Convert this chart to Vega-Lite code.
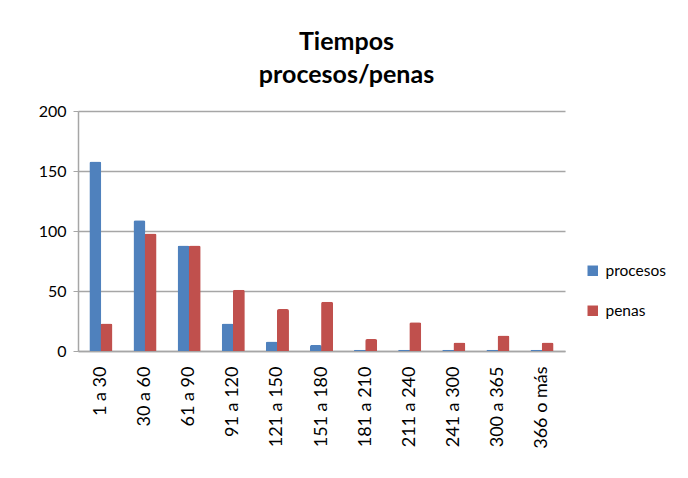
{
  "$schema": "https://vega.github.io/schema/vega-lite/v6.json",
  "autosize": "none",
  "width": 487,
  "height": 240,
  "padding": {"left": 78, "top": 111, "right": 123, "bottom": 127},
  "background": "white",
  "config": {"font": "Lato", "view": {"stroke": null}},
  "title": {
    "text": ["Tiempos", "procesos/penas"],
    "fontSize": 25,
    "fontWeight": "bold",
    "font": "Lato",
    "color": "#000000",
    "anchor": "middle",
    "frame": "group",
    "lineHeight": 33,
    "offset": 15,
    "dx": 25
  },
  "data": {
    "values": [
      {"rango": "1 a 30", "serie": "procesos", "valor": 158},
      {"rango": "1 a 30", "serie": "penas", "valor": 23},
      {"rango": "30 a 60", "serie": "procesos", "valor": 109},
      {"rango": "30 a 60", "serie": "penas", "valor": 98},
      {"rango": "61 a 90", "serie": "procesos", "valor": 88},
      {"rango": "61 a 90", "serie": "penas", "valor": 88},
      {"rango": "91 a 120", "serie": "procesos", "valor": 23},
      {"rango": "91 a 120", "serie": "penas", "valor": 51},
      {"rango": "121 a 150", "serie": "procesos", "valor": 8},
      {"rango": "121 a 150", "serie": "penas", "valor": 35},
      {"rango": "151 a 180", "serie": "procesos", "valor": 5},
      {"rango": "151 a 180", "serie": "penas", "valor": 41},
      {"rango": "181 a 210", "serie": "procesos", "valor": 1},
      {"rango": "181 a 210", "serie": "penas", "valor": 10},
      {"rango": "211 a 240", "serie": "procesos", "valor": 1},
      {"rango": "211 a 240", "serie": "penas", "valor": 24},
      {"rango": "241 a 300", "serie": "procesos", "valor": 1},
      {"rango": "241 a 300", "serie": "penas", "valor": 7},
      {"rango": "300 a 365", "serie": "procesos", "valor": 1},
      {"rango": "300 a 365", "serie": "penas", "valor": 13},
      {"rango": "366 o más", "serie": "procesos", "valor": 1},
      {"rango": "366 o más", "serie": "penas", "valor": 7}
    ]
  },
  "mark": {"type": "bar", "width": 12, "cornerRadiusTopLeft": 2, "cornerRadiusTopRight": 2},
  "encoding": {
    "x": {
      "field": "rango",
      "type": "nominal",
      "sort": null,
      "scale": {"paddingInner": 0, "paddingOuter": 0.02},
      "axis": {
        "title": null,
        "labelAngle": -90,
        "labelAlign": "right",
        "labelBaseline": "middle",
        "labelFontSize": 18,
        "labelColor": "#000000",
        "labelPadding": 15,
        "ticks": false,
        "domainColor": "#a6a6a6",
        "domainWidth": 1.5,
        "labelFont": "Lato"
      }
    },
    "xOffset": {
      "field": "serie",
      "type": "nominal",
      "sort": ["procesos", "penas"],
      "scale": {"paddingInner": 0.05, "paddingOuter": 1.0}
    },
    "y": {
      "field": "valor",
      "type": "quantitative",
      "scale": {"domain": [0, 200]},
      "axis": {
        "title": null,
        "values": [0, 50, 100, 150, 200],
        "labelFontSize": 16,
        "labelColor": "#000000",
        "labelPadding": 7,
        "gridColor": "#a6a6a6",
        "gridWidth": 1.5,
        "domainColor": "#a6a6a6",
        "domainWidth": 1.5,
        "tickColor": "#a6a6a6",
        "tickSize": 5,
        "labelFont": "Lato"
      }
    },
    "color": {
      "field": "serie",
      "type": "nominal",
      "sort": ["procesos", "penas"],
      "scale": {"domain": ["procesos", "penas"], "range": ["#4F81BD", "#C0504D"]},
      "legend": {
        "title": null,
        "orient": "none",
        "legendX": 507,
        "legendY": 152,
        "symbolType": "square",
        "symbolSize": 110,
        "symbolStrokeWidth": 0,
        "labelFontSize": 15.5,
        "labelColor": "#000000",
        "rowPadding": 23,
        "labelOffset": 5,
        "labelFont": "Lato"
      }
    }
  }
}
